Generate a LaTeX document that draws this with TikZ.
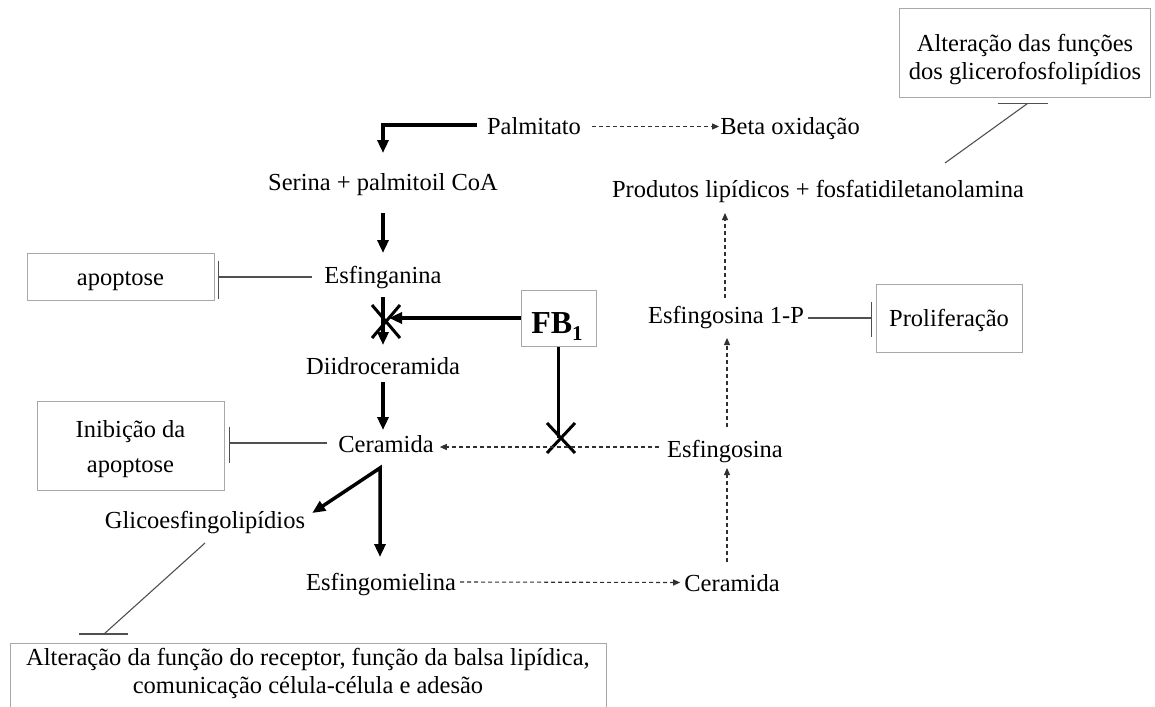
\documentclass[tikz,border=0pt]{standalone}
\usepackage{fontspec}
\setmainfont{Liberation Serif}
\usetikzlibrary{arrows.meta,calc}
\definecolor{boxgray}{HTML}{A8A8A8}
\definecolor{linegray}{HTML}{505050}
\definecolor{dashgray}{HTML}{303030}
\begin{document}
\begin{tikzpicture}[x=1pt,y=-1pt,
  font=\fontsize{24.5}{30}\selectfont,
  lbl/.style={inner sep=0pt, text height=17pt, text depth=0pt},
  btxt/.style={inner sep=0pt, anchor=base},
  boxnode/.style={draw=boxgray, line width=1pt, inner sep=0pt},
  thk/.style={line width=3.5pt, -{Triangle[length=13pt,width=11pt]}},
  dsh/.style={draw=dashgray, line width=1.1pt, dash pattern=on 4pt off 3pt, -{Triangle[length=7pt,width=6pt]}},
  inh/.style={draw=linegray, line width=1.1pt},
  xmark/.style={line width=3pt}
]
\useasboundingbox (0,0) rectangle (1155,706);
\clip (0,0) rectangle (1155,706);

% text nodes (centre = baseline - 8.5)
\node[lbl] (pal)  at (534,126.5) {Palmitato};
\node[lbl] (beta) at (790,126.5) {Beta oxidação};
\node[lbl] (ser)  at (383,181.5) {Serina + palmitoil CoA};
\node[lbl] (esf)  at (383,274.5) {Esfinganina};
\node[lbl] (dii)  at (383,365.5) {Diidroceramida};
\node[lbl] (cer)  at (386,444) {Ceramida};
\node[lbl] (gli)  at (205,520) {Glicoesfingolipídios};
\node[lbl] (esm)  at (381,582) {Esfingomielina};
\node[lbl] (cer2) at (732,582.5) {Ceramida};
\node[lbl] (esg)  at (725,448.5) {Esfingosina};
\node[lbl] (e1p)  at (726,314.5) {Esfingosina 1-P};
\node[lbl] (prod) at (818,188.5) {Produtos lipídicos + fosfatidiletanolamina};

% boxes
\node[boxnode, minimum width=187pt, minimum height=47pt] (apop) at (120.5,276.5) {};
\node[btxt] (apopt) at (120.5,285) {apoptose};
\node[boxnode, minimum width=187pt, minimum height=89pt] (inib) at (130.5,445.5) {};
\node[btxt] (inibt1) at (130.5,437) {Inibição da};
\node[btxt] (inibt2) at (130.5,472.5) {apoptose};
\node[boxnode, minimum width=251pt, minimum height=89pt] (altb) at (1024.5,53.5) {};
\node[btxt] (altt1) at (1025,52) {Alteração das funções};
\node[btxt] (altt2) at (1025,80) {dos glicerofosfolipídios};
\node[boxnode, minimum width=146pt, minimum height=68pt] (prol) at (949,318) {};
\node[btxt] (prolt) at (949,326) {Proliferação};
\node[boxnode, minimum width=75pt, minimum height=56pt] (fb) at (558.5,318) {};
\node[btxt] (fbt) at (557,333) {\fontsize{32}{36}\selectfont\bfseries FB\raisebox{-7pt}{\fontsize{21}{21}\selectfont 1}};
\node[boxnode, minimum width=596pt, minimum height=90pt, anchor=north] (bbox) at (308,643) {};
\node[btxt] (bt1) at (308,665) {Alteração da função do receptor, função da balsa lipídica,};
\node[btxt] (bt2) at (308,693) {comunicação célula-célula e adesão};

% thick solid pathway
\draw[thk] ($(pal.west)+(-10,-1.5)$) -| ($(ser)+(0,-28.5)$);
\draw[thk] ($(ser)+(0,31.5)$) -- ($(esf)+(0,-21.5)$);
\draw[thk] ($(esf)+(0,22.5)$) -- ($(dii)+(0,-20.5)$);
\draw[thk] ($(dii)+(0,16.5)$) -- ($(dii |- cer)+(0,-14)$);
\coordinate (apex) at ($(cer)+(-6,24)$);
\coordinate (gtip) at ($(gli.east)+(7,-7)$);
\coordinate (etip) at ($(esm)+(-1,-25)$);
\draw[line width=3.5pt, {Triangle[length=13pt,width=11pt]}-{Triangle[length=13pt,width=11pt]}] (gtip) -- (apex) -- (etip);

% FB1 inhibition
\draw[thk] (fb.west) -- ($(esf |- fb)+(6,0)$);
\coordinate (x1) at ($(esf)+(3,46.5)$);
\draw[xmark] ($(x1)+(-14,-16)$) -- ($(x1)+(14,17)$);
\draw[xmark] ($(x1)+(-14,17)$) -- ($(x1)+(14,-16)$);
\coordinate (x2) at (561,438);
\draw[line width=3.5pt] (fb.south) -- (fb.south |- x2);
\draw[xmark] ($(x2)+(-14,-15)$) -- ($(x2)+(14,15)$);
\draw[xmark] ($(x2)+(-14,15)$) -- ($(x2)+(14,-15)$);

% dashed pathway
\draw[dsh] ($(pal.east)+(11,0)$) -- ($(beta.west)+(-1,0)$);
\draw[dsh] ($(esg.west)+(-8,-1.5)$) -- ($(cer.east |- esg)+(6,-1.5)$);
\draw[dsh] ($(esm.east)+(4,0)$) -- ($(cer2.west)+(-4,0)$);
\draw[dsh] ($(cer2)+(-5,-20.5)$) -- ($(esg)+(2,19.5)$);
\draw[dsh] ($(esg)+(2,-21.5)$) -- ($(e1p)+(1,23.5)$);
\draw[dsh] ($(e1p)+(-1,-16.5)$) -- ($(prod)+(-93,24.5)$);

% inhibition lines
\draw[inh] ($(esf.west)+(-12,2.5)$) -- ($(apop.east)+(4,0.5)$);
\draw[inh] ($(apop.east)+(4,-16)$) -- ($(apop.east)+(4,22)$);
\draw[inh] ($(cer.west)+(-11,-1)$) -- ($(inib.east)+(5,-2.5)$);
\draw[inh] ($(inib.east)+(5,-19)$) -- ($(inib.east)+(5,17)$);
\draw[inh] ($(e1p.east)+(4,3.5)$) -- ($(prol.west)+(-4,0)$);
\draw[inh] ($(prol.west)+(-4,-16)$) -- ($(prol.west)+(-4,19)$);
\coordinate (tb) at ($(altb.south)+(-2,5)$);
\draw[inh] ($(prod)+(127,-25.5)$) -- ($(tb)+(5,0)$);
\draw[inh] ($(tb)+(-25,0)$) -- ($(tb)+(25,0)$);
\coordinate (bb) at ($(bbox.north)+(-204.5,-9)$);
\draw[inh] ($(gli)+(0,23)$) -- ($(bb)+(0.5,0)$);
\draw[inh] ($(bb)+(-24.5,0)$) -- ($(bb)+(24.5,0)$);
\end{tikzpicture}
\end{document}
